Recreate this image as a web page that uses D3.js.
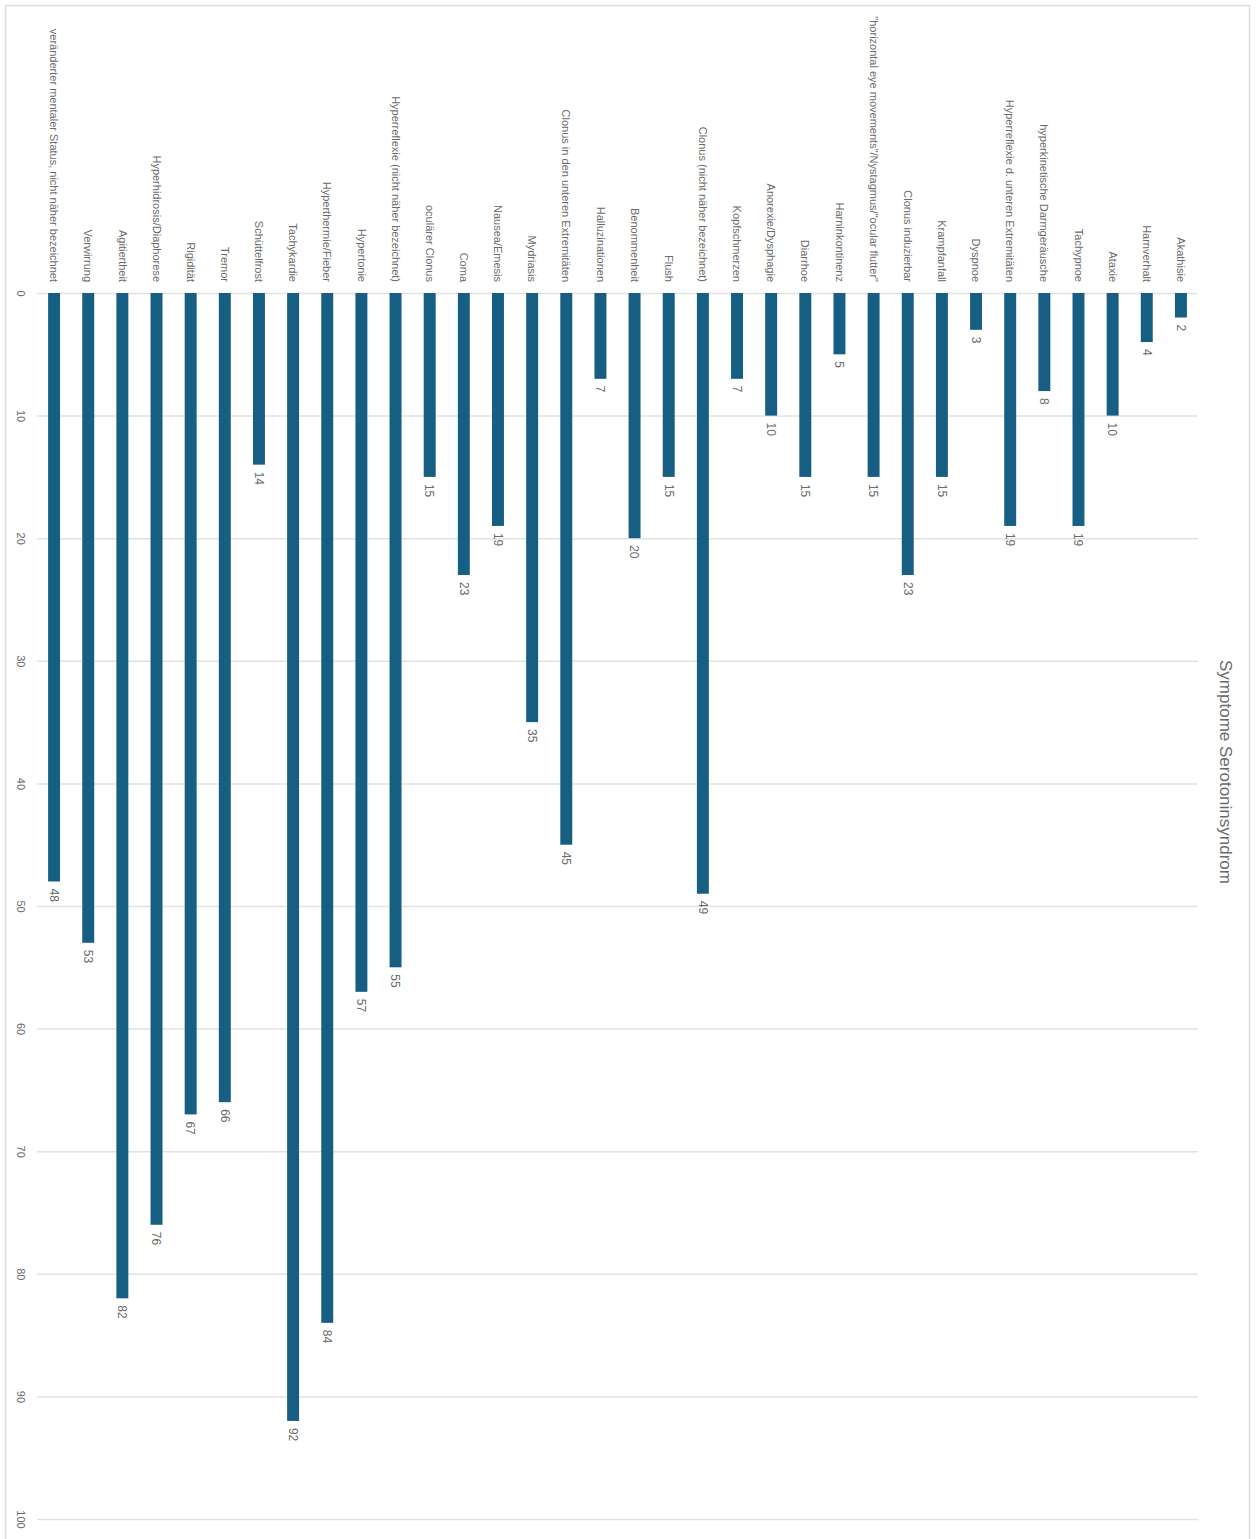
<!DOCTYPE html>
<html>
<head>
<meta charset="utf-8">
<script src="https://cdn.jsdelivr.net/npm/d3@7"></script>
<style>
  html, body { margin: 0; padding: 0; background: #fff; }
  svg { display: block; }
  text { font-family: "Liberation Sans", Arial, sans-serif; fill: #6b6b6b; }
</style>
</head>
<body>
<svg id="chart" width="1259" height="1539"></svg>
<script>
// Symptoms of serotonin syndrome and number of reported cases
const categories = [
  "veränderter mentaler Status, nicht näher bezeichnet",
  "Verwirrung",
  "Agitiertheit",
  "Hyperhidrosis/Diaphorese",
  "Rigidität",
  "Tremor",
  "Schüttelfrost",
  "Tachykardie",
  "Hyperthermie/Fieber",
  "Hypertonie",
  "Hyperreflexie (nicht näher bezeichnet)",
  "oculärer Clonus",
  "Coma",
  "Nausea/Emesis",
  "Mydriasis",
  "Clonus in den unteren Extremitäten",
  "Halluzinationen",
  "Benommenheit",
  "Flush",
  "Clonus (nicht näher bezeichnet)",
  "Kopfschmerzen",
  "Anorexie/Dysphagie",
  "Diarrhoe",
  "Harninkontinenz",
  "\"horizontal eye movements\"/Nystagmus/\"ocular flutter\"",
  "Clonus induzierbar",
  "Krampfanfall",
  "Dyspnoe",
  "Hyperreflexie d. unteren Extremitäten",
  "hyperkinetische Darmgeräusche",
  "Tachypnoe",
  "Ataxie",
  "Harnverhalt",
  "Akathisie"
];
const counts = [48, 53, 82, 76, 67, 66, 14, 92, 84, 57, 55, 15, 23, 19, 35, 45, 7, 20, 15, 49,
                7, 10, 15, 5, 15, 23, 15, 3, 19, 8, 19, 10, 4, 2];
const valueTicks = [0, 10, 20, 30, 40, 50, 60, 70, 80, 90, 100];
const chartTitle = "Symptome Serotoninsyndrom";

const svg = d3.select("#chart");

// outer frame (open at the bottom edge of the page)
svg.append("path")
  .attr("d", "M5.5,1545 V5.5 H1249.5 V1545")
  .attr("fill", "none")
  .attr("stroke", "#dcdcdc")
  .attr("stroke-width", 1.5);

const x = d3.scaleBand()
  .domain(categories)
  .range([37, 1198])
  .paddingInner(0.65)
  .paddingOuter(0.325);

const y = d3.scaleLinear()
  .domain([0, 100])
  .range([293, 1519]);

// value gridlines + rotated tick labels
const axis = d3.axisLeft(y).tickValues(valueTicks).tickSize(0).tickPadding(0);
const axisG = svg.append("g").attr("transform", "translate(37,0)").call(axis);
axisG.select(".domain").remove();
axisG.selectAll(".tick line")
  .attr("x2", 1198 - 37)
  .attr("stroke", "#e2e2e2")
  .attr("stroke-width", 1.5);
axisG.selectAll(".tick text")
  .attr("x", null).attr("dy", null)
  .attr("transform", "translate(-16,0) rotate(90)")
  .attr("text-anchor", "middle")
  .attr("dy", "0.35em")
  .style("font-size", "11px")
  .style("font-family", "'Liberation Sans', Arial, sans-serif")
  .attr("fill", "#6b6b6b");

// bars
svg.append("g").selectAll("rect")
  .data(categories)
  .join("rect")
  .attr("x", d => x(d))
  .attr("width", x.bandwidth())
  .attr("y", y(0))
  .attr("height", (d, i) => y(counts[i]) - y(0))
  .attr("fill", "#175f82");

// category labels above each bar
svg.append("g").selectAll("text")
  .data(categories)
  .join("text")
  .attr("transform", d => `translate(${x(d) + x.bandwidth() / 2},282) rotate(90)`)
  .attr("text-anchor", "end")
  .attr("dy", "0.35em")
  .style("font-size", "11px")
  .text(d => d);

// value labels at the end of each bar
svg.append("g").selectAll("text")
  .data(categories)
  .join("text")
  .attr("transform", (d, i) => `translate(${x(d) + x.bandwidth() / 2},${y(counts[i]) + 7}) rotate(90)`)
  .attr("text-anchor", "start")
  .attr("dy", "0.35em")
  .style("font-size", "12px")
  .text((d, i) => counts[i]);

// chart title on the right side
svg.append("text")
  .attr("transform", "translate(1226,772) rotate(90)")
  .attr("text-anchor", "middle")
  .attr("dy", "0.35em")
  .style("font-size", "17px")
  .text(chartTitle);
</script>
</body>
</html>
